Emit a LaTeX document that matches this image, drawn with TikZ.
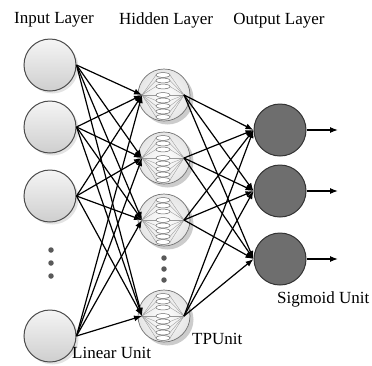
\documentclass[tikz,border=0pt]{standalone}
\usepackage{fontspec}
\setmainfont{Liberation Serif}
\usetikzlibrary{shadows,arrows.meta}
\begin{document}
\begin{tikzpicture}[x=1pt,y=-1pt,
  inunit/.style={circle,draw=black!70,line width=1pt,minimum size=52pt,inner sep=0pt,
    top color=gray!8,bottom color=gray!38,
    drop shadow={opacity=0.22,shadow xshift=2.5pt,shadow yshift=-2.5pt}},
  hidunit/.style={circle,draw=black!55,line width=0.7pt,minimum size=52pt,inner sep=0pt,
    inner color=white,outer color=gray!20,
    drop shadow={opacity=0.4,shadow xshift=3.5pt,shadow yshift=-3.5pt}},
  outunit/.style={circle,draw=black!80,line width=1pt,minimum size=52pt,inner sep=0pt,fill=black!57},
  conn/.style={line width=1.2pt,-{Latex[length=8pt,width=6pt]}},
  lbl/.style={font=\fontsize{17}{20}\selectfont,inner sep=0pt,anchor=base},
  lblw/.style={font=\fontsize{17}{20}\selectfont,inner sep=0pt,anchor=base west},
  vdot/.style={circle,fill=black!65,minimum size=5.5pt,inner sep=0pt},
  ell/.style={draw=black!60,line width=0.5pt,fill=white},
  wire/.style={draw=black!40,line width=0.35pt}]
\useasboundingbox (0,0) rectangle (372,365);

% labels
\node[lbl] (tin) at (54,23) {Input Layer};
\node[lbl] (thid) at (166,24) {Hidden Layer};
\node[lbl] (tout) at (279,24) {Output Layer};

% input units
\node[inunit] (i1) at (50,65) {};
\node[inunit] (i2) at (50,127) {};
\node[inunit] (i3) at (50,196) {};
\node[inunit] (i4) at (50,336) {};
\node[vdot] (id1) at (51,250) {};
\node[vdot] (id2) at (51,263) {};
\node[vdot] (id3) at (51,276) {};

% output units
\node[outunit] (o1) at (280,130) {};
\node[outunit] (o2) at (280,191) {};
\node[outunit] (o3) at (280,259) {};

% hidden units
\foreach \n/\y in {1/95,2/158,3/220,4/316}{
  \node[hidunit] (h\n) at (164,\y) {};
  \coordinate (hi\n) at (142,\y);
  \coordinate (ho\n) at (184,\y);
  \begin{scope}[shift={(163,\y)}]
    \foreach \e in {-20,-14.5,-8.5,0,5.5,11,16.5,22}{
      \draw[wire] (-21,0) -- (-7,\e);
      \draw[wire] (7,\e) -- (21,0);
    }
    \foreach \e in {-20,-14.5,-8.5,0,5.5,11,16.5,22}{
      \draw[ell] (0,\e) ellipse [x radius=7pt,y radius=2.4pt];
    }
    \fill[black!45] (-21,0) circle (1.1pt) (21,0) circle (1.1pt);
  \end{scope}
}
\node[vdot] (hd1) at (164,258) {};
\node[vdot] (hd2) at (164,269) {};
\node[vdot] (hd3) at (164,280) {};

% input -> hidden
\foreach \a in {1,2,3,4}{
  \foreach \b in {1,2,3,4}{
    \draw[conn] (i\a.east) -- (hi\b);
  }
}
% hidden -> output
\foreach \a in {1,2,3,4}{
  \foreach \b in {1,2,3}{
    \draw[conn] (ho\a) -- (o\b.west);
  }
}
% outputs
\foreach \b/\y in {1/130,2/191,3/259}{
  \coordinate (e\b) at (338,\y);
  \draw[conn] (o\b.east) -- (e\b);
}

\node[lblw] (tlin) at (72,358) {Linear Unit};
\node[lblw] (ttp) at (192,344) {TPUnit};
\node[lblw] (tsig) at (277,303) {Sigmoid Unit};
\end{tikzpicture}
\end{document}
